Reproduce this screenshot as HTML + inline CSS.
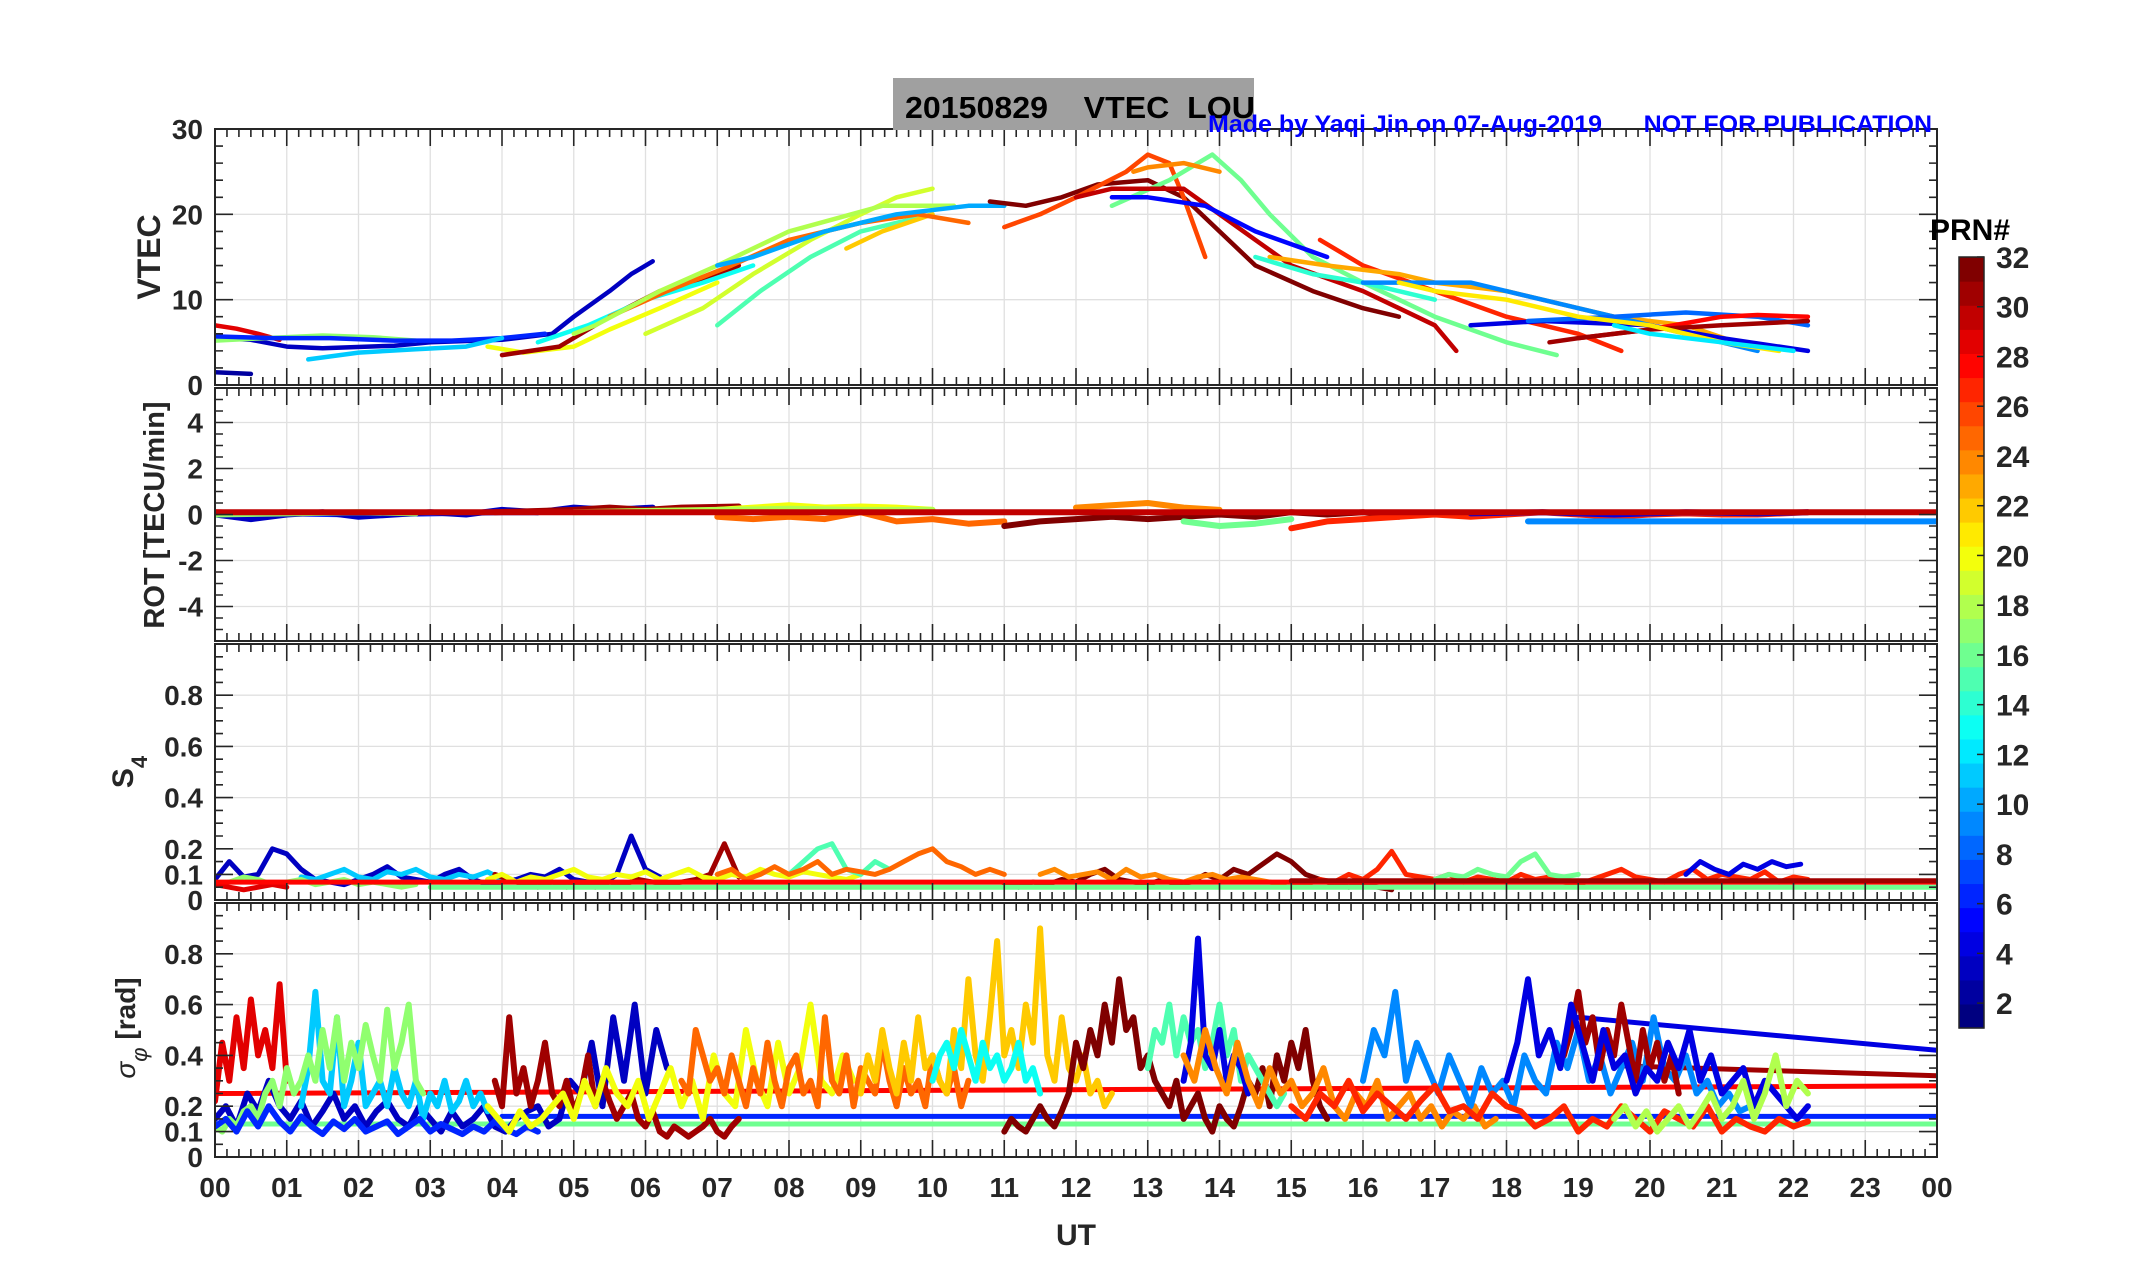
<!DOCTYPE html>
<html><head><meta charset="utf-8"><title>20150829 VTEC LOU</title>
<style>html,body{margin:0;padding:0;background:#fff}svg{display:block}
text{font-family:"Liberation Sans",sans-serif;font-weight:bold}</style></head>
<body>
<svg id="fig" xmlns="http://www.w3.org/2000/svg" width="2153" height="1286" viewBox="0 0 2153 1286">
<rect x="0" y="0" width="2153" height="1286" fill="#fff"/>
<g id="grids"></g><g id="data"></g><g id="axes"></g>
<rect x="893" y="78" width="361" height="52" fill="#a0a0a0"/>
<text x="905" y="118" font-size="31" fill="#000" textLength="350" lengthAdjust="spacingAndGlyphs" xml:space="preserve">20150829    VTEC  LOU</text>
<text x="1208" y="132" font-size="24" fill="#0000ff" textLength="724" lengthAdjust="spacingAndGlyphs" xml:space="preserve">Made by Yaqi Jin on 07-Aug-2019      NOT FOR PUBLICATION</text>
<g id="cbar"></g>
<text x="1930" y="240" font-size="30" fill="#000">PRN#</text>
<text x="1076" y="1245" font-size="30" fill="#262626" text-anchor="middle">UT</text>
<text transform="translate(160,257) rotate(-90)" font-size="32" fill="#262626" text-anchor="middle">VTEC</text>
<text transform="translate(164,515) rotate(-90)" font-size="29" fill="#262626" text-anchor="middle">ROT [TECU/min]</text>
<text transform="translate(133,772) rotate(-90)" font-size="30" fill="#262626" text-anchor="middle">S<tspan font-size="22" dy="14">4</tspan></text>
<text transform="translate(135,1028) rotate(-90)" font-size="28" fill="#262626" text-anchor="middle"><tspan font-style="italic" font-weight="normal">σ</tspan><tspan font-style="italic" font-weight="normal" font-size="22" dy="12">φ</tspan><tspan dy="-12"> [rad]</tspan></text>
</svg>
<script>
// ---------- DATA ----------
const hourLabels = ["00","01","02","03","04","05","06","07","08","09","10","11","12","13","14","15","16","17","18","19","20","21","22","23","00"];
const vtecTicks = [0,10,20,30];
const rotTicks = [-4,-2,0,2,4];
const s4Ticks = [0,0.1,0.2,0.4,0.6,0.8];
const sigTicks = [0,0.1,0.2,0.4,0.6,0.8];
const cbarTicks = [2,4,6,8,10,12,14,16,18,20,22,24,26,28,30,32];

// VTEC: per-satellite PRN, times (h), values (TECU)
const vtecPrn = [2,3,29,17,6,11,20,31,13,19,15,22,25,18,10,32,26,16,24,30,5,27,23,14,9,4,8,28,31,21,12];
const vtecT = [
 [0,0.5],
 [0,0.5,1,1.5,2.5,3,4,4.7,5,5.5,5.8,6.1],
 [0,0.3,0.6,0.9],
 [0,0.7,1.5,2.2,2.8],
 [0,0.8,1.6,2.5,3.3,4,4.6],
 [1.3,2,2.8,3.5,4],
 [3.8,4.3,5,5.5,6.2,7],
 [4,4.8,5.5,6.2,7,7.3],
 [4.5,5.2,6,6.8,7.5],
 [6,6.8,7.5,8.3,9,9.5,10],
 [7,7.6,8.3,9,10],
 [8.8,9.3,10],
 [5.5,6.3,7.2,8,9,9.8,10.5],
 [5,5.3,6.2,7,8,9.3,10.3],
 [7,7.5,8.5,9.5,10.5,11],
 [10.8,11.3,11.8,12.3,13,13.5,14,14.5,15.3,16,16.5],
 [11,11.5,12,12.7,13,13.3,13.5,13.8],
 [12.5,13.3,13.9,14.3,14.7,15.3,16,17,18,18.7],
 [12.8,13,13.5,14],
 [12,12.5,13.5,14,14.5,15,16,17,17.3],
 [12.5,13,13.8,14.5,15.5],
 [15.4,16,17,18,19,19.6],
 [14.7,15.5,16.5,17,18,19.5,20.5,21.2],
 [14.5,15.3,16,17],
 [16,16.5,17.5,18.5,19.5,20.5,21.5],
 [17.5,18.5,20,21,22.2],
 [18.3,19.5,20.5,21.5,22.2],
 [19,20,21,21.5,22.2],
 [18.6,19,20,21,22.2],
 [16.5,17,18,19,20,21,21.8],
 [19.5,20,21,22]
];
const vtecV = [
 [1.5,1.3],
 [5.5,5.3,4.5,4.3,4.6,5,5.3,6,8,11,13,14.5],
 [7,6.6,6,5.3],
 [5.2,5.5,5.8,5.6,5.2],
 [5.7,5.5,5.5,5.2,5.2,5.5,6],
 [3,3.8,4.2,4.5,5.5],
 [4.5,3.8,4.5,6.5,9,12],
 [3.5,4.5,8,11,13,14],
 [5,7,10,12,14],
 [6,9,13,17,20,22,23],
 [7,11,15,18,20],
 [16,18,20],
 [8,11,14,17,19,20,19],
 [6,7,11,14,18,21,21],
 [14,15,18,20,21,21],
 [21.5,21,22,23.5,24,22,18,14,11,9,8],
 [18.5,20,22,25,27,26,22,15],
 [21,24,27,24,20,15,12,8,5,3.5],
 [25,25.5,26,25],
 [22,23,23,20,17,14,11,7,4],
 [22,22,21,18,15],
 [17,14,11,8,6,4],
 [15,14,13,12,11,8,7,5],
 [15,13,12,10],
 [12,12,12,10,8,6,4],
 [7,7.5,7,5.5,4],
 [7.5,8,8.5,8,7],
 [5.5,6.5,8,8.2,8],
 [5,5.5,6.5,7,7.5],
 [12,11,10,8,7,5,4],
 [7,6,5,4]
];

// ROT: PRN, times, values (TECU/min)
const rotPrn = [6,3,29,17,31,20,18,25,32,24,16,27,4,9,30];
const rotT = [
 [0,1,2,3,4,4.5],
 [0,0.5,1,1.5,2,2.5,3,3.5,4,4.5,5,5.5,6.1],
 [0,0.5,1],
 [0,1,2,2.8],
 [3.9,4.5,5,5.5,6,6.5,7.3],
 [7,7.5,8,8.5,9,9.5,10],
 [5,6,7,8,9,10],
 [7,7.5,8,8.5,9,9.5,10,10.5,11],
 [11,11.5,12,12.5,13,13.5,14,14.5,15,15.5,16,16.5],
 [12,12.5,13,13.5,14],
 [13.5,14,14.5,15],
 [15,15.5,16,16.5,17,17.5,18,18.5,19,19.5,20,20.5,21,21.5,22.2],
 [17.5,18.5,19.5,20.5,21.5,22.2],
 [18.3,24],
 [0,24]
];
const rotV = [
 [0,0.05,0,0.05,0.1,0.1],
 [0,-0.2,0,0.1,-0.1,0,0.1,0,0.2,0.1,0.3,0.2,0.3],
 [0.1,0.05,0.1],
 [0,0.05,0.1,0.05],
 [0.1,0.15,0.2,0.3,0.2,0.3,0.35],
 [0.2,0.3,0.4,0.3,0.35,0.3,0.2],
 [0.1,0.15,0.2,0.25,0.2,0.2],
 [-0.1,-0.2,-0.1,-0.2,0.1,-0.3,-0.2,-0.4,-0.3],
 [-0.5,-0.3,-0.2,-0.1,-0.2,-0.1,0,-0.1,0.1,0,0.1,-0.1],
 [0.3,0.4,0.5,0.3,0.2],
 [-0.3,-0.5,-0.4,-0.2],
 [-0.6,-0.3,-0.2,-0.1,0,-0.1,0,0.1,0,-0.1,0,0.05,0,0,0.1],
 [0.05,0.1,0,0.1,0.05,0.1],
 [-0.3,-0.3],
 [0.1,0.1]
];

// S4: PRN, start time, step, values
const s4Prn = [3,11,17,29,31,20,15,25,32,24,27,16,4];
const s4Start = [0,1.2,0,0,3.9,3.8,8,7,11,11.5,15,17,20.5];
const s4Step = [0.2,0.2,0.2,0.2,0.2,0.2,0.2,0.2,0.2,0.2,0.2,0.2,0.2];
const s4V = [
 [.08,.15,.09,.1,.2,.18,.12,.08,.07,.06,.08,.1,.13,.09,.08,.07,.1,.12,.08,.06,.07,.08,.1,.09,.12,.08,.07,.06,.1,.25,.12,.09],
 [.09,.08,.1,.12,.09,.08,.11,.1,.12,.09,.08,.1,.09,.11,.08],
 [.06,.07,.09,.08,.06,.07,.08,.06,.07,.08,.06,.07,.06,.05,.06],
 [.06,.05,.04,.05,.06,.05],
 [.1,.08,.06,.05,.07,.05,.06,.05,.07,.06,.08,.07,.06,.07,.08,.1,.22,.09],
 [.08,.1,.07,.09,.08,.1,.12,.09,.08,.1,.09,.11,.08,.1,.12,.09,.08,.1,.09,.12,.1,.09,.11,.1,.09,.08,.1],
 [.1,.15,.2,.22,.12,.1,.15,.12],
 [.1,.12,.08,.1,.13,.1,.12,.15,.1,.12,.11,.1,.12,.15,.18,.2,.15,.13,.1,.12,.1],
 [.06,.05,.07,.06,.08,.07,.1,.12,.08,.07,.06,.08,.06,.07,.1,.08,.12,.1,.14,.18,.15,.1,.08,.06,.05,.06,.05,.04],
 [.1,.12,.09,.1,.11,.08,.12,.09,.1,.08,.07,.09,.1,.08,.09,.08,.07,.06],
 [.07,.06,.08,.07,.1,.08,.12,.19,.1,.09,.08,.1,.07,.09,.08,.07,.1,.08,.09,.07,.06,.08,.1,.12,.09,.08,.07,.1,.12,.08,.1,.09,.08,.11,.07,.09,.08],
 [.08,.1,.09,.12,.1,.09,.15,.18,.1,.09,.1],
 [.1,.15,.12,.1,.14,.12,.15,.13,.14]
];
// S4 straight segments: PRN, t0, v0, t1, v1
const s4LinePrn = [16,28,31];
const s4LineT0 = [3,0,15]; const s4LineV0 = [0.05,0.07,0.075];
const s4LineT1 = [24,24,24]; const s4LineV1 = [0.05,0.07,0.075];

// sigma-phi: PRN, start, step, values (rad)
const sigPrn = [29,3,11,17,6,31,20,25,22,13,32,15,4,24,9,31,4,27,18];
const sigStart = [0,0,1.2,0,0,3.9,3.8,6.5,9,10,11,13,13.5,13.5,16,18.8,18,15,19.5];
const sigStep = [0.1,0.15,0.1,0.1,0.15,0.1,0.15,0.1,0.1,0.1,0.1,0.1,0.1,0.15,0.15,0.1,0.15,0.2,0.15];
const sigV = [
 [.22,.45,.3,.55,.35,.62,.4,.5,.35,.68,.3],
 [.15,.2,.12,.25,.18,.3,.2,.15,.22,.12,.18,.25,.15,.2,.12,.18,.22,.15,.12,.2,.15,.1,.18,.12,.15,.2,.12,.1,.15,.18,.2,.12,.15,.3,.25,.45,.2,.55,.3,.6,.25,.5,.35],
 [.2,.35,.65,.3,.25,.55,.2,.3,.45,.2,.25,.3,.2,.35,.25,.2,.3,.15,.25,.2,.3,.18,.22,.3,.2,.25,.18],
 [.12,.1,.15,.12,.18,.2,.15,.25,.3,.2,.35,.25,.3,.4,.3,.5,.35,.55,.3,.45,.35,.52,.4,.3,.58,.35,.45,.6,.3,.25],
 [.12,.15,.1,.18,.12,.2,.14,.1,.16,.12,.09,.14,.11,.15,.1,.12,.14,.09,.12,.15,.1,.13,.11,.09,.12,.1,.14,.11,.09,.12,.1],
 [.3,.2,.55,.25,.35,.2,.3,.45,.25,.2,.3,.18,.25,.4,.2,.3,.22,.15,.2,.25,.15,.12,.18,.1,.08,.12,.1,.08,.1,.12,.15,.1,.08,.12,.15],
 [.2,.15,.1,.18,.12,.15,.2,.25,.15,.3,.2,.35,.25,.2,.3,.15,.25,.35,.2,.3,.15,.4,.25,.2,.5,.3,.2,.45,.25,.35,.6,.3,.25,.4,.3],
 [.3,.25,.5,.4,.3,.35,.25,.4,.3,.2,.35,.25,.45,.3,.2,.35,.4,.25,.3,.2,.55,.3,.25,.4,.2,.35,.3,.25,.45,.3,.2,.35,.25,.3,.2,.4,.3,.25,.35,.2,.3],
 [.25,.4,.3,.5,.35,.25,.45,.3,.55,.35,.4,.3,.25,.5,.35,.7,.4,.3,.55,.85,.4,.5,.35,.6,.45,.9,.4,.3,.55,.35,.3,.4,.25,.3,.2,.25],
 [.3,.4,.45,.35,.5,.4,.3,.45,.35,.4,.3,.35,.45,.3,.35,.25],
 [.1,.15,.12,.1,.15,.2,.15,.12,.18,.25,.45,.35,.5,.4,.6,.45,.7,.5,.55,.35,.4,.3,.25,.2,.3,.15,.2,.25,.15,.1,.2,.15,.12,.2,.3,.25,.35,.2,.4,.3,.45,.35,.5,.3,.2,.15],
 [.35,.5,.45,.6,.4,.55,.45,.5,.35,.45,.6,.4,.5,.3,.4,.35,.3,.25,.2,.25],
 [.3,.45,.86,.4,.35,.5,.3,.4,.35,.25],
 [.4,.3,.5,.35,.25,.45,.3,.2,.35,.25,.3,.2,.25,.35,.2,.15,.25,.2,.3,.15,.2,.25,.15,.2,.12,.18,.15,.2,.12,.15],
 [.3,.5,.4,.65,.3,.45,.35,.25,.4,.3,.2,.35,.25,.3,.2,.4,.3,.25,.45,.35,.5,.3,.4,.25,.35,.45,.3,.55,.35,.3,.4,.25,.3,.2,.25,.18,.2],
 [.4,.5,.65,.45,.55,.35,.5,.4,.6,.45,.3,.5,.35,.45,.3,.4,.25],
 [.3,.45,.7,.4,.5,.35,.6,.45,.3,.5,.35,.4,.25,.35,.3,.45,.35,.5,.3,.4,.25,.3,.35,.2,.3,.25,.2,.15,.2],
 [.2,.15,.25,.2,.3,.18,.25,.2,.15,.22,.28,.18,.2,.15,.25,.2,.18,.12,.15,.2,.1,.15,.12,.2,.15,.1,.18,.15,.12,.2,.1,.15,.12,.1,.15,.12,.14],
 [.15,.2,.12,.18,.1,.15,.2,.12,.18,.25,.15,.2,.3,.15,.25,.4,.2,.3,.25]
];
// sigma-phi straight segments
const sigLinePrn = [16,6,28,4,31];
const sigLineT0 = [0,4,0,19,19.5]; const sigLineV0 = [0.13,0.16,0.25,0.55,0.36];
const sigLineT1 = [24,24,24,24,24]; const sigLineV1 = [0.13,0.16,0.28,0.42,0.32];

// ---------- RENDER ----------
const NS = "http://www.w3.org/2000/svg";
const X0 = 215, X1 = 1937;
const panels = [
  {name:"vtec", top:129, bot:385, min:0, max:30, major:vtecTicks, minorStep:2, grid:vtecTicks},
  {name:"rot", top:388, bot:641, min:-5.5, max:5.5, major:rotTicks, minorStep:0.5, grid:rotTicks},
  {name:"s4", top:644, bot:900, min:0, max:1, major:s4Ticks, minorStep:0.05, grid:s4Ticks},
  {name:"sigma", top:903, bot:1157, min:0, max:1, major:sigTicks, minorStep:0.05, grid:sigTicks}
];
function xs(h){ return X0 + h*(X1-X0)/24; }
function ysF(p){ return v => p.bot - (v-p.min)*(p.bot-p.top)/(p.max-p.min); }
function jet(prn){
  const t=(prn-1)/31;
  const c=x=>Math.round(255*Math.max(0,Math.min(1,x)));
  return `rgb(${c(1.5-Math.abs(4*t-3))},${c(1.5-Math.abs(4*t-2))},${c(1.5-Math.abs(4*t-1))})`;
}
function mk(tag, attrs, parent){
  const e=document.createElementNS(NS,tag);
  for(const k in attrs) e.setAttribute(k,attrs[k]);
  parent.appendChild(e); return e;
}
const grids=document.getElementById('grids'), dataG=document.getElementById('data'), axes=document.getElementById('axes');
const defs=mk('defs',{},document.getElementById('fig'));
panels.forEach((p,i)=>{
  const cp=mk('clipPath',{id:'clip'+i},defs);
  mk('rect',{x:X0,y:p.top,width:X1-X0,height:p.bot-p.top},cp);
  const ys=ysF(p);
  for(let h=1;h<24;h++){
    const l=mk('line',{x1:xs(h),x2:xs(h),y1:p.top,y2:p.bot,stroke:'#e0e0e0','stroke-width':1.3},grids);
    
    
  }
  p.grid.forEach(v=>{
    const l=mk('line',{x1:X0,x2:X1,y1:ys(v),y2:ys(v),stroke:'#e0e0e0','stroke-width':1.3},grids);
    
    
  });
  const fr=mk('rect',{x:X0,y:p.top,width:X1-X0,height:p.bot-p.top,fill:'none',stroke:'#262626','stroke-width':2},axes);
  
  
  let d='';
  for(let k=0;k<=144;k++){
    const x=xs(k/6), len=(k%6===0)?17:8;
    d+=`M${x},${p.top}v${len}M${x},${p.bot}v${-len}`;
  }
  for(let v=p.min;v<=p.max+1e-9;v+=p.minorStep){
    const vv=Math.round(v*1000)/1000;
    const isMaj=p.major.some(m=>Math.abs(m-vv)<1e-6);
    const len=isMaj?18:8, y=ys(vv);
    d+=`M${X0},${y}h${len}M${X1},${y}h${-len}`;
  }
  const tk=mk('path',{d:d,stroke:'#262626','stroke-width':1.6,fill:'none'},axes);
  
  
  p.major.forEach(v=>{
    const t=mk('text',{x:203,y:ys(v)+10,'font-size':28,fill:'#262626','text-anchor':'end'},axes);
    t.textContent=String(v);
    
    
  });
});
hourLabels.forEach((s,h)=>{
  const t=mk('text',{x:xs(h),y:1197,'font-size':28,fill:'#262626','text-anchor':'middle'},axes);
  t.textContent=s;
  
  
});
function drawLine(pi, ts, vs, prn, w, name){
  const p=panels[pi], ys=ysF(p);
  const pts=ts.map((t,k)=>xs(t).toFixed(1)+','+ys(vs[k]).toFixed(1)).join(' ');
  const pl=mk('polyline',{points:pts,fill:'none',stroke:jet(prn),'stroke-width':w,'stroke-linejoin':'round','stroke-linecap':'round','clip-path':`url(#clip${pi})`},dataG);
  
  
}
vtecPrn.forEach((prn,i)=>drawLine(0,vtecT[i],vtecV[i],prn,4.5,'vtec-line-prn'+prn));
rotPrn.forEach((prn,i)=>drawLine(1,rotT[i],rotV[i],prn,6,'rot-line-prn'+prn));
s4Prn.forEach((prn,i)=>drawLine(2,s4V[i].map((_,k)=>s4Start[i]+k*s4Step[i]),s4V[i],prn,5,'s4-line-prn'+prn));
s4LinePrn.forEach((prn,i)=>drawLine(2,[s4LineT0[i],s4LineT1[i]],[s4LineV0[i],s4LineV1[i]],prn,5,'s4-fit-prn'+prn));
sigLinePrn.forEach((prn,i)=>drawLine(3,[sigLineT0[i],sigLineT1[i]],[sigLineV0[i],sigLineV1[i]],prn,5,'sigma-fit-prn'+prn));
sigPrn.forEach((prn,i)=>drawLine(3,sigV[i].map((_,k)=>sigStart[i]+k*sigStep[i]),sigV[i],prn,6,'sigma-line-prn'+prn));
const cb=document.getElementById('cbar');
const CBX=1959, CBW=25, CBT=257, CBB=1028;
const bandH=(CBB-CBT)/32;
for(let prn=1;prn<=32;prn++){
  const r=mk('rect',{x:CBX,y:CBB-prn*bandH,width:CBW,height:bandH+0.6,fill:jet(prn)},cb);
  
  
}
const cbf=mk('rect',{x:CBX,y:CBT,width:CBW,height:CBB-CBT,fill:'none',stroke:'#262626','stroke-width':1.5},cb);


cbarTicks.forEach(v=>{
  const y=CBB-(v-1)*(CBB-CBT)/31;
  const l=mk('line',{x1:CBX+CBW-7,x2:CBX+CBW,y1:y,y2:y,stroke:'#262626','stroke-width':1.5},cb);
  
  
  const t=mk('text',{x:1996,y:y+11,'font-size':30,fill:'#262626'},cb);
  t.textContent=String(v);
  
  
});
</script>
</body></html>
